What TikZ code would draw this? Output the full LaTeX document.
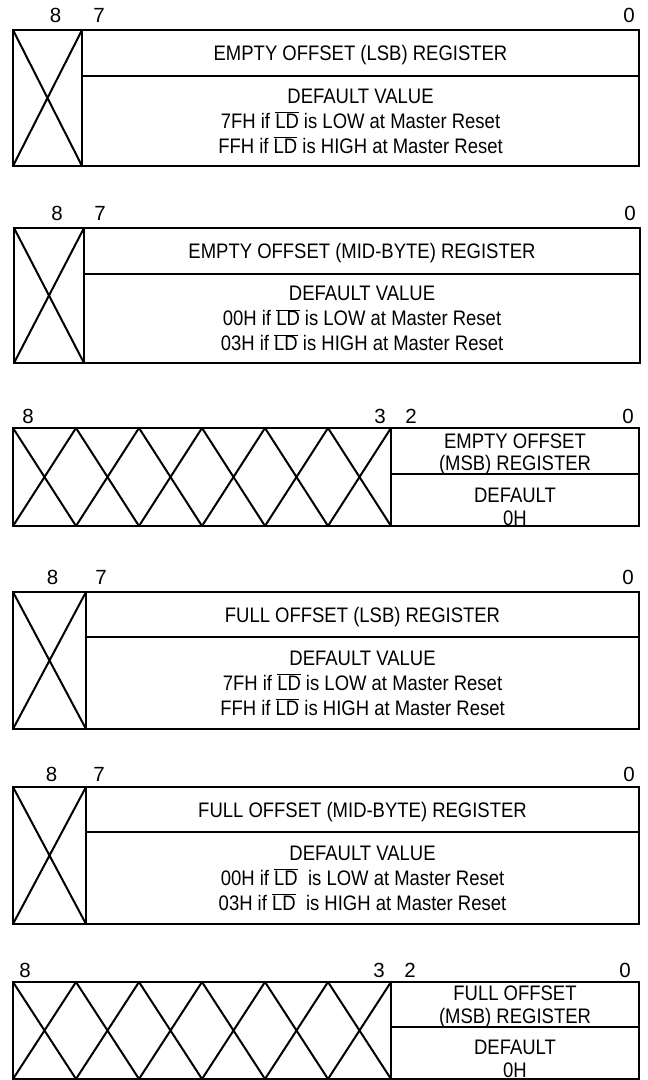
\documentclass[tikz,border=0pt]{standalone}
\usepackage{fontspec}
\setmainfont[FakeStretch=0.88]{Liberation Sans}
\newfontfamily\bitfont{Liberation Sans}
\usetikzlibrary{positioning}
\newcommand{\notLD}{$\overline{\mbox{LD}}$}

\begin{document}
\begin{tikzpicture}[x=1pt, y=1pt,
    main/.style = {draw, rectangle, inner sep=0pt, outer sep=0pt, line width=1.1pt, align=center, font=\fontsize{21}{25}\selectfont},
    regname/.style = {main, text depth=0pt},
    xed/.style = {rectangle, inner sep=0pt, outer sep=0pt, path picture={
        \draw[line width=2pt] (path picture bounding box.north west) -- (path picture bounding box.south east)
                              (path picture bounding box.north east) -- (path picture bounding box.south west);}},
    msb/.style = {main, font=\fontsize{21}{22.5}\selectfont},
    bitno/.style = {inner sep=0pt, font=\bitfont\fontsize{20.5}{20.5}\selectfont}]
    \useasboundingbox (0,0) rectangle (648,1080);

    %empty offset lsb

    \node[main, xed, anchor=north west, minimum width=69pt, minimum height=136pt] (XLSB1) at (13,1050) {};
    \node[regname, anchor=north west, minimum width=557pt, minimum height=46pt] (RLSB1) at (XLSB1.north east) {EMPTY OFFSET (LSB) REGISTER};
    \node[main, anchor=north west, minimum width=557pt, minimum height=90pt] (DLSB1) at (RLSB1.south west) {};
    \node[main, draw=none] (VLSB1) at ([yshift=0pt]DLSB1.center) {DEFAULT VALUE\\7FH if \notLD{} is LOW at Master Reset\\FFH if \notLD{} is HIGH at Master Reset};
    \node[bitno] (N8LSB1) [above=7pt of XLSB1.north, xshift=8pt] {8};
    \node[bitno] (N7LSB1) [above=7pt of XLSB1.north east, xshift=17pt] {7};
    \node[bitno] (N0LSB1) [above=7pt of RLSB1.north east, xshift=-10pt] {0};

    %empty offset mid-byte

    \node[main, xed, anchor=north west, minimum width=70pt, minimum height=135pt] (XMID1) at (14,852) {};
    \node[regname, anchor=north west, minimum width=556pt, minimum height=46pt] (RMID1) at (XMID1.north east) {EMPTY OFFSET (MID-BYTE) REGISTER};
    \node[main, anchor=north west, minimum width=556pt, minimum height=89pt] (DMID1) at (RMID1.south west) {};
    \node[main, draw=none] (VMID1) at ([yshift=0pt]DMID1.center) {DEFAULT VALUE\\00H if \notLD{} is LOW at Master Reset\\03H if \notLD{} is HIGH at Master Reset};
    \node[bitno] (N8MID1) [above=7pt of XMID1.north, xshift=8pt] {8};
    \node[bitno] (N7MID1) [above=7pt of XMID1.north east, xshift=16pt] {7};
    \node[bitno] (N0MID1) [above=7pt of RMID1.north east, xshift=-10pt] {0};

    %empty offset msb

    \node[main, anchor=north west, minimum width=378pt, minimum height=98pt] (XMSB1) at (13,652) {};
    \node[xed, anchor=north west, minimum width=63pt, minimum height=98pt] (XMSB1a) at (XMSB1.north west) {};
    \node[xed, anchor=north west, minimum width=63pt, minimum height=98pt] (XMSB1b) at (XMSB1a.north east) {};
    \node[xed, anchor=north west, minimum width=63pt, minimum height=98pt] (XMSB1c) at (XMSB1b.north east) {};
    \node[xed, anchor=north west, minimum width=63pt, minimum height=98pt] (XMSB1d) at (XMSB1c.north east) {};
    \node[xed, anchor=north west, minimum width=63pt, minimum height=98pt] (XMSB1e) at (XMSB1d.north east) {};
    \node[xed, anchor=north west, minimum width=63pt, minimum height=98pt] (XMSB1f) at (XMSB1e.north east) {};
    \node[msb, anchor=north west, minimum width=248pt, minimum height=46pt] (RMSB1) at (XMSB1.north east) {};
    \node[msb, anchor=north west, minimum width=248pt, minimum height=52pt] (DMSB1) at (RMSB1.south west) {};
    \node[msb, draw=none] (TMSB1) at ([yshift=-3.5pt]RMSB1.center) {EMPTY OFFSET\\(MSB) REGISTER};
    \node[msb, draw=none] (VMSB1) at ([yshift=-7pt]DMSB1.center) {DEFAULT\\0H};
    \node[bitno] (N8MSB1) [above=4pt of XMSB1.north west, xshift=15pt] {8};
    \node[bitno] (N3MSB1) [above=4pt of XMSB1.north east, xshift=-11pt] {3};
    \node[bitno] (N2MSB1) [above=4pt of RMSB1.north west, xshift=20pt] {2};
    \node[bitno] (N0MSB1) [above=4pt of RMSB1.north east, xshift=-11pt] {0};

    %full offset lsb

    \node[main, xed, anchor=north west, minimum width=73pt, minimum height=137pt] (XLSB2) at (13,488) {};
    \node[regname, anchor=north west, minimum width=553pt, minimum height=45pt] (RLSB2) at (XLSB2.north east) {FULL OFFSET (LSB) REGISTER};
    \node[main, anchor=north west, minimum width=553pt, minimum height=92pt] (DLSB2) at (RLSB2.south west) {};
    \node[main, draw=none] (VLSB2) at ([yshift=0pt]DLSB2.center) {DEFAULT VALUE\\7FH if \notLD{} is LOW at Master Reset\\FFH if \notLD{} is HIGH at Master Reset};
    \node[bitno] (N8LSB2) [above=7pt of XLSB2.north, xshift=3pt] {8};
    \node[bitno] (N7LSB2) [above=7pt of XLSB2.north east, xshift=15pt] {7};
    \node[bitno] (N0LSB2) [above=7pt of RLSB2.north east, xshift=-11pt] {0};

    %full offset mid-byte

    \node[main, xed, anchor=north west, minimum width=73pt, minimum height=137pt] (XMID2) at (13,293) {};
    \node[regname, anchor=north west, minimum width=553pt, minimum height=45pt] (RMID2) at (XMID2.north east) {FULL OFFSET (MID-BYTE) REGISTER};
    \node[main, anchor=north west, minimum width=553pt, minimum height=92pt] (DMID2) at (RMID2.south west) {};
    \node[main, draw=none] (VMID2) at ([yshift=0pt]DMID2.center) {DEFAULT VALUE\\00H if \notLD\ \ is LOW at Master Reset\\03H if \notLD\ \ is HIGH at Master Reset};
    \node[bitno] (N8MID2) [above=5pt of XMID2.north, xshift=2pt] {8};
    \node[bitno] (N7MID2) [above=5pt of XMID2.north east, xshift=13pt] {7};
    \node[bitno] (N0MID2) [above=5pt of RMID2.north east, xshift=-10pt] {0};

    %full offset msb

    \node[main, anchor=north west, minimum width=378pt, minimum height=97pt] (XMSB2) at (13,98) {};
    \node[xed, anchor=north west, minimum width=63pt, minimum height=97pt] (XMSB2a) at (XMSB2.north west) {};
    \node[xed, anchor=north west, minimum width=63pt, minimum height=97pt] (XMSB2b) at (XMSB2a.north east) {};
    \node[xed, anchor=north west, minimum width=63pt, minimum height=97pt] (XMSB2c) at (XMSB2b.north east) {};
    \node[xed, anchor=north west, minimum width=63pt, minimum height=97pt] (XMSB2d) at (XMSB2c.north east) {};
    \node[xed, anchor=north west, minimum width=63pt, minimum height=97pt] (XMSB2e) at (XMSB2d.north east) {};
    \node[xed, anchor=north west, minimum width=63pt, minimum height=97pt] (XMSB2f) at (XMSB2e.north east) {};
    \node[msb, anchor=north west, minimum width=248pt, minimum height=45pt] (RMSB2) at (XMSB2.north east) {};
    \node[msb, anchor=north west, minimum width=248pt, minimum height=52pt] (DMSB2) at (RMSB2.south west) {};
    \node[msb, draw=none] (TMSB2) at ([yshift=-2.5pt]RMSB2.center) {FULL OFFSET\\(MSB) REGISTER};
    \node[msb, draw=none] (VMSB2) at ([yshift=-6pt]DMSB2.center) {DEFAULT\\0H};
    \node[bitno] (N8MSB2) [above=4pt of XMSB2.north west, xshift=12pt] {8};
    \node[bitno] (N3MSB2) [above=4pt of XMSB2.north east, xshift=-12pt] {3};
    \node[bitno] (N2MSB2) [above=4pt of RMSB2.north west, xshift=19pt] {2};
    \node[bitno] (N0MSB2) [above=4pt of RMSB2.north east, xshift=-14pt] {0};
\end{tikzpicture}
\end{document}
